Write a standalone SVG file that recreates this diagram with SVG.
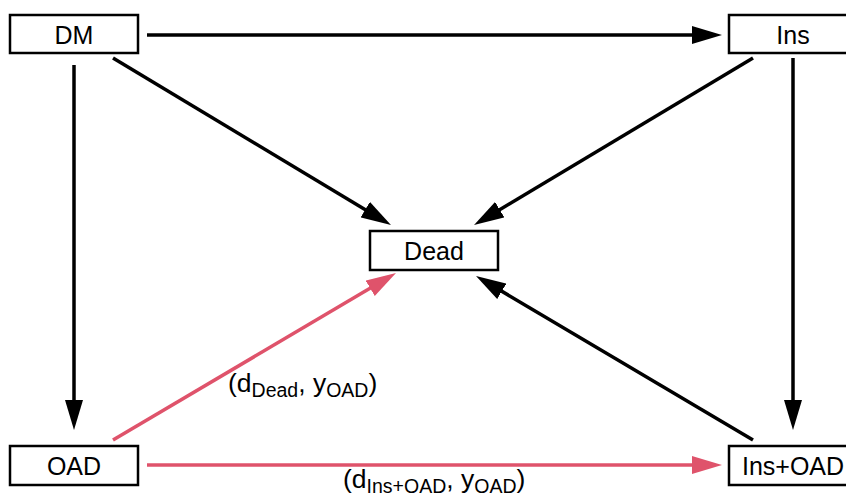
<svg xmlns="http://www.w3.org/2000/svg" width="846" height="501" viewBox="0 0 846 501">
<style>
.box{fill:#fff;stroke:#000;stroke-width:2.5}
.lbl{font-family:"Liberation Sans",Arial,sans-serif;font-size:25px;text-anchor:middle;fill:#000}
.edge{stroke:#000;stroke-width:3.5;fill:none;marker-end:url(#ah)}
.red{stroke:#DF536B;marker-end:url(#ahr)}
.el{font-family:"Liberation Sans",Arial,sans-serif;font-size:26.5px;fill:#000}
.sub{font-size:19.5px}
</style>
<defs>
<marker id="ah" markerUnits="userSpaceOnUse" markerWidth="30" markerHeight="18" refX="20" refY="9" orient="auto"><path d="M0,0 L30,9 L0,18 z" fill="#000"/></marker>
<marker id="ahr" markerUnits="userSpaceOnUse" markerWidth="30" markerHeight="18" refX="20" refY="9" orient="auto"><path d="M0,0 L30,9 L0,18 z" fill="#DF536B"/></marker>
</defs>
<rect width="846" height="501" fill="#fff"/>
<g id="connectors">
<line class="edge" x1="147" y1="35" x2="712" y2="35"/>
<line class="edge" x1="113" y1="58" x2="382.4" y2="219.9"/>
<line class="edge" x1="753" y1="58" x2="482.6" y2="219.9"/>
<line class="edge" x1="74" y1="65" x2="74" y2="420"/>
<line class="edge" x1="793" y1="58" x2="793" y2="420"/>
<line class="edge red" x1="113" y1="440" x2="387.4" y2="278.1"/>
<line class="edge" x1="753" y1="440" x2="484.6" y2="281.1"/>
<line class="edge red" x1="147" y1="465" x2="712" y2="465"/>
<text class="el" x="228" y="392">(d<tspan class="sub" dy="5">Dead</tspan><tspan dy="-5">, y</tspan><tspan class="sub" dy="5">OAD</tspan><tspan dy="-5">)</tspan></text>
<text class="el" x="343" y="488">(d<tspan class="sub" dy="5">Ins+OAD</tspan><tspan dy="-5">, y</tspan><tspan class="sub" dy="5">OAD</tspan><tspan dy="-5">)</tspan></text>
</g>
<g id="DM"><rect class="box" x="10" y="15" width="128" height="38"/><text class="lbl" x="74" y="43.5">DM</text></g>
<g id="Ins"><rect class="box" x="729" y="15" width="128" height="38"/><text class="lbl" x="793" y="43.5">Ins</text></g>
<g id="Dead"><rect class="box" x="370" y="231" width="128" height="39"/><text class="lbl" x="434" y="259.5">Dead</text></g>
<g id="OAD"><rect class="box" x="10" y="446" width="128" height="39"/><text class="lbl" x="74" y="474.5">OAD</text></g>
<g id="InsOAD"><rect class="box" x="729" y="446" width="128" height="39"/><text class="lbl" x="793" y="474.5">Ins+OAD</text></g>
</svg>
